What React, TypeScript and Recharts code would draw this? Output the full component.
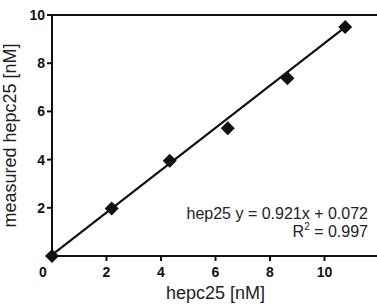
import React from 'react';
import { ScatterChart, Scatter, XAxis, YAxis, ReferenceLine, Customized } from 'recharts';

const spiked = [0, 2.19, 4.32, 6.45, 8.64, 10.76];
const measured = [0, 1.97, 3.95, 5.3, 7.38, 9.5];
const fitX = [0, 10.76];
const fitY = [0.05, 9.5];
const xTicks = [0, 2, 4, 6, 8, 10];
const yTicks = [2, 4, 6, 8, 10];

const points = spiked.map((x, i) => ({ x, y: measured[i] }));
const fitLine = fitX.map((x, i) => ({ x, y: fitY[i] }));

const FONT = '"Liberation Sans", Arial, sans-serif';

const Diamond = (props: any) => {
  const { cx, cy } = props;
  const r = 7;
  return (
    <polygon
      points={`${cx},${cy - r} ${cx + r},${cy} ${cx},${cy + r} ${cx - r},${cy}`}
      fill="#111"
    />
  );
};

const XTick = (props: any) => {
  const { x, y, payload } = props;
  const shift = payload.value === 0 ? -9 : 0;
  return (
    <text x={x + shift} y={y + 14} textAnchor="middle" fontSize={14} fontWeight="bold" fontFamily={FONT} fill="#111">
      {payload.value}
    </text>
  );
};

const Equation = () => (
  <g fontFamily={FONT} fill="#222" fontSize={16} textAnchor="end">
    <text x={368} y={219}>hep25 y = 0.921x + 0.072</text>
    <text x={368} y={237}>
      R<tspan fontSize={10} dy={-7}>2</tspan>
      <tspan dy={7}> = 0.997</tspan>
    </text>
  </g>
);

export default function App() {
  return (
    <div style={{ position: 'fixed', left: 0, top: 0, background: '#fff' }}>
      <ScatterChart width={377} height={304} margin={{ top: 15, right: -2, left: 0, bottom: 0 }}>
        <XAxis
          type="number"
          dataKey="x"
          domain={[0, 12]}
          ticks={xTicks}
          height={48}
          stroke="#111"
          strokeWidth={2}
          tickSize={5}
          tick={<XTick />}
          label={{ value: 'hepc25 [nM]', position: 'insideBottom', offset: 5, fontSize: 18, fill: '#222', fontFamily: FONT }}
        />
        <YAxis
          type="number"
          dataKey="y"
          domain={[0, 10]}
          ticks={yTicks}
          width={52}
          stroke="#111"
          strokeWidth={2}
          tickSize={5}
          tick={{ fontSize: 14, fontWeight: 'bold', fill: '#111', fontFamily: FONT }}
          label={{
            value: 'measured hepc25 [nM]',
            angle: -90,
            position: 'insideLeft',
            offset: 10,
            fontSize: 18,
            fill: '#222',
            fontFamily: FONT,
            style: { textAnchor: 'middle' },
          }}
        />
        <ReferenceLine y={10} stroke="#111" strokeWidth={2} />
        <Scatter data={points} shape={<Diamond />} isAnimationActive={false} />
        <Scatter
          data={fitLine}
          line={{ stroke: '#111', strokeWidth: 2.2 }}
          shape={() => null}
          isAnimationActive={false}
        />
        <Customized component={Equation} />
      </ScatterChart>
    </div>
  );
}
